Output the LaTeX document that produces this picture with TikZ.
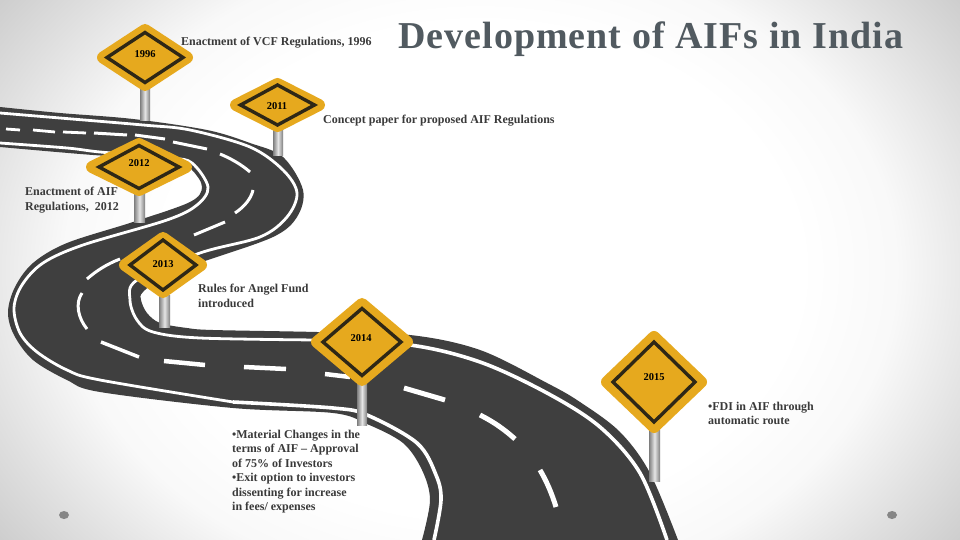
\documentclass[tikz,border=0pt]{standalone}
\usepackage{fontspec}
\setmainfont{Liberation Serif}
\definecolor{bgA}{gray}{1}
\definecolor{bgB}{gray}{0.975}
\definecolor{bgC}{gray}{0.88}
\definecolor{bgD}{gray}{0.79}
\pgfdeclareradialshading{bgshade}{\pgfpoint{0bp}{0bp}}{color(0bp)=(bgA);color(11.5bp)=(bgA);color(15bp)=(bgB);color(18.5bp)=(bgC);color(22bp)=(bgD);color(50bp)=(bgD)}
\definecolor{roadgrey}{HTML}{3F3F3F}
\definecolor{signyellow}{HTML}{E6A91E}
\definecolor{signdark}{HTML}{2E2716}
\definecolor{titlegrey}{HTML}{515A60}
\definecolor{bodygrey}{HTML}{3A3A3A}
\definecolor{poleedge}{HTML}{7E7E7E}
\tikzset{
  edgeline/.style={draw=white,line cap=butt,line join=round},
  lanedash/.style={draw=white,line cap=butt},
  bodytext/.style={text=bodygrey,font=\fontsize{12}{14.45}\selectfont\bfseries,anchor=north west,align=left,inner sep=0pt},
  yeartext/.style={text=black,font=\fontsize{10.5}{12}\selectfont\bfseries,inner sep=0pt},
  signplate/.style={fill=signyellow,draw=signyellow,line width=12pt,line join=round},
  signring/.style={draw=signdark,line width=3.4pt,line join=miter},
  polebar/.style={left color=poleedge,right color=poleedge,middle color=white!90!black},
  dotmark/.style={fill=gray!95!white}
}
\newcommand{\rsign}[6]{%
  \path[signplate] (#1-#3+6,#2) -- (#1,#2-#4+6) -- (#1+#3-6,#2) -- (#1,#2+#4-6) -- cycle;
  \path[signring] (#1-#5,#2) -- (#1,#2-#6) -- (#1+#5,#2) -- (#1,#2+#6) -- cycle;
}
\newcommand{\rpole}[4]{\shade[polebar] (#1,#2) rectangle (#3,#4);}
\begin{document}
\begin{tikzpicture}[x=1pt,y=-1pt]
\useasboundingbox (0,0) rectangle (960,540);
\begin{scope}
\clip (0,0) rectangle (960,540);
\shade[shading=bgshade] (-216,-266) rectangle (1176,806);
% road surface
\fill[roadgrey] plot[smooth,tension=.55] coordinates {(0,107) (60,113) (133,119) (207,130) (250,143) (283,157) (303,190) (297,217) (273,237) (205,261) (165,275) (143,292) (141,300) (147,313) (160,323) (187,328) (213,330) (317,332) (410,335) (480,350) (547,383) (580,402) (620,432) (650,473) (678,540)}
 -- plot[smooth,tension=.55] coordinates {(422,540) (430,500) (422,470) (403,443) (367,424) (333,413) (233,408) (100,392) (67,380) (33,360) (14,335) (8,312) (15,287) (33,263) (67,243) (133,222) (190,202) (202,187) (192,170) (175,160) (93,155) (0,147)} -- cycle;
% edge lines
\draw[edgeline,line width=2.8pt] plot[smooth,tension=.55] coordinates {(0,113) (60,118) (143,125) (190,130) (250,147) (283,170) (297,193) (287,217) (260,237) (200,253) (137,280) (130,300) (137,320) (153,332) (200,338) (317,340)};
\draw[edgeline,line width=3.6pt] plot[smooth,tension=.55] coordinates {(317,340) (410,345) (480,362) (547,393) (600,427) (640,473) (667,540)};
\draw[edgeline,line width=2.8pt] plot[smooth,tension=.55] coordinates {(0,143) (67,148) (100,152) (170,158) (192,163) (208,187) (197,205) (167,220) (83,245) (43,263) (22,285) (14,308) (20,333) (37,352) (67,370) (100,380) (233,402)};
\draw[edgeline,line width=3.6pt] plot[smooth,tension=.55] coordinates {(233,402) (333,408) (367,415) (417,443) (436,475) (441,500) (434,540)};
% centre dashes
\draw[lanedash,line width=2.8pt] (6,129) -- (20,130);
\draw[lanedash,line width=2.8pt] (33,130) -- (55,132);
\draw[lanedash,line width=2.8pt] (63,132) -- (86,133);
\draw[lanedash,line width=3pt] (94,133) -- (127,135);
\draw[lanedash,line width=3pt] (135,135) -- (165,139);
\draw[lanedash,line width=3pt] (173,142) -- (207,149);
\draw[lanedash,line width=3pt] (220,154) .. controls (232,159) and (242,165) .. (250,172);
\draw[lanedash,line width=3pt] (253,190) .. controls (251,199) and (244,207) .. (235,213);
\draw[lanedash,line width=3pt] (225,222) -- (194,235);
\draw[lanedash,line width=3pt] (120,259) .. controls (107,264) and (96,271) .. (87,279);
\draw[lanedash,line width=3pt] (82,293) .. controls (75,303) and (78,318) .. (87,329);
\draw[lanedash,line width=3.5pt] (101,342) -- (139,357);
\draw[lanedash,line width=4.5pt] (164,361) -- (205,365);
\draw[lanedash,line width=4.5pt] (244,367) -- (286,369);
\draw[lanedash,line width=4.5pt] (325,374) -- (350,377);
\draw[lanedash,line width=5pt] (404,388) -- (445,400);
\draw[lanedash,line width=5pt] (480,415) .. controls (494,422) and (505,430) .. (515,439);
\draw[lanedash,line width=5pt] (540,470) .. controls (547,482) and (552,494) .. (556,507);
% poles
\rpole{140}{88}{150}{121}
\rpole{273}{130}{283}{156}
\rpole{134}{192}{145}{222}
\rpole{159}{295}{170}{327}
\rpole{357}{383}{367}{425}
\rpole{649}{430}{660}{481}
% signs
\rsign{145}{57.5}{48}{33.5}{38}{25}
\rsign{277.5}{105}{47.5}{27}{37}{20}
\rsign{139}{167}{53}{29}{40}{21.5}
\rsign{163}{265}{44}{33}{33}{25}
\rsign{362}{342}{51}{44}{39}{33.5}
\rsign{654}{382}{53}{51}{41}{40}
% dots
\fill[dotmark] (64,515) ellipse (5 and 4);
\fill[dotmark] (892,515) ellipse (5 and 4);
% sign labels
\node[yeartext] (y1996) at (145,54.5) {1996};
\node[yeartext] (y2011) at (277,106.5) {2011};
\node[yeartext] (y2012) at (139,163.5) {2012};
\node[yeartext] (y2013) at (163,264.5) {2013};
\node[yeartext] (y2014) at (361,338.5) {2014};
\node[yeartext] (y2015) at (654,377.5) {2015};
% captions
\node[bodytext] (c1996) at (181,37) {Enactment of VCF Regulations, 1996};
\node[bodytext] (c2011) at (323,115) {Concept paper for proposed AIF Regulations};
\node[bodytext] (c2012) at (25,187) {Enactment of AIF\\Regulations,\ \ 2012};
\node[bodytext] (c2013) at (198,284) {Rules for Angel Fund\\introduced};
\node[bodytext] (c2014) at (232,430) {•Material Changes in the\\terms of AIF – Approval\\of 75\% of Investors\\•Exit option to investors\\dissenting for increase\\in fees/ expenses};
\node[bodytext] (c2015) at (708,402) {•FDI in AIF through\\automatic route};
% title
\node[text=titlegrey,font=\fontsize{38}{42}\selectfont\bfseries\addfontfeature{LetterSpace=2.7},anchor=base west,inner sep=0pt] (title) at (398,48.5) {Development of AIFs in India};
\end{scope}
\end{tikzpicture}
\end{document}
